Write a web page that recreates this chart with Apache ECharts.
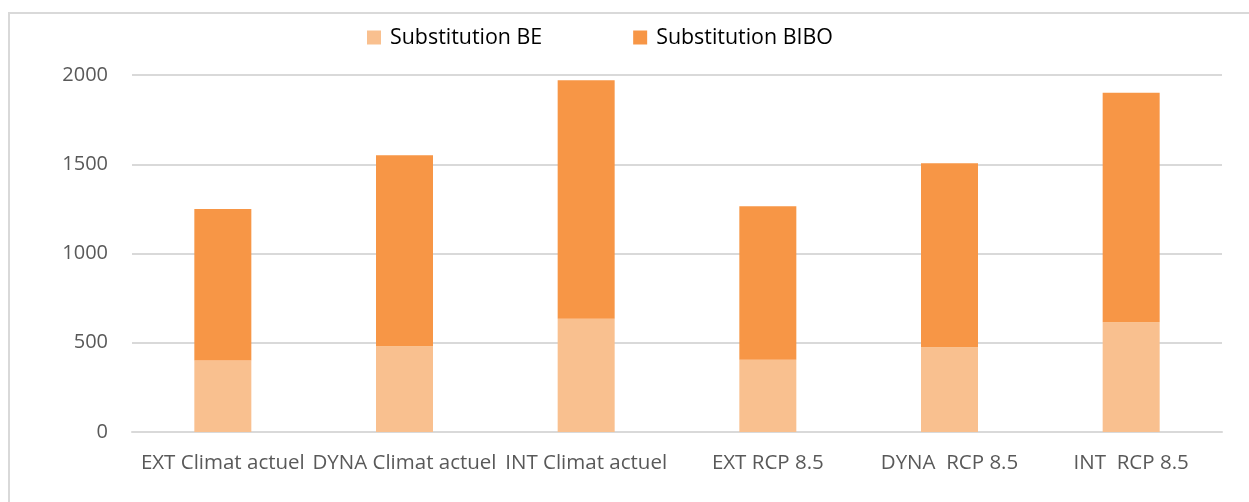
<!DOCTYPE html>
<html>
<head>
<meta charset="utf-8">
<script src="https://cdn.jsdelivr.net/npm/echarts@6/dist/echarts.min.js"></script>
<style>
html,body{margin:0;padding:0;background:#fff;}
#c{width:1249px;height:502px;}
</style>
</head>
<body>
<div id="c"></div>
<script>
var categories = ["EXT Climat actuel", "DYNA Climat actuel", "INT Climat actuel", "EXT RCP 8.5", "DYNA  RCP 8.5", "INT  RCP 8.5"];
var seriesNames = ["Substitution BE", "Substitution BIBO"];
var substitutionBE = [400, 480, 635, 405, 475, 615];
var substitutionBIBO = [850, 1070, 1335, 860, 1030, 1285];
var yTicks = [0, 500, 1000, 1500, 2000];

var chart = echarts.init(document.getElementById('c'), null, {renderer: 'canvas'});
var font = '"Open Sans", "Noto Sans", sans-serif';
chart.setOption({
  animation: false,
  backgroundColor: '#ffffff',
  graphic: [{
    type: 'rect', silent: true, z: -1,
    shape: {x: 9, y: 13, width: 1300, height: 600},
    style: {fill: 'none', stroke: '#d9d9d9', lineWidth: 2}
  }],
  legend: {
    left: 362, top: 22,
    itemWidth: 14, itemHeight: 14, itemGap: 91,
    icon: 'rect',
    textStyle: {fontFamily: font, fontSize: 21.4, color: '#000000', padding: [0, 0, 0, 4]},
    data: seriesNames
  },
  grid: {left: 132, right: 27, top: 75, bottom: 70, containLabel: false},
  xAxis: {
    type: 'category',
    data: categories,
    axisLine: {lineStyle: {color: '#d9d9d9', width: 2}},
    axisTick: {show: false},
    axisLabel: {fontFamily: font, fontSize: 20.5, color: '#595959', margin: 21, interval: 0}
  },
  yAxis: {
    type: 'value',
    min: yTicks[0], max: yTicks[yTicks.length - 1], interval: 500,
    axisLine: {show: false},
    axisTick: {show: false},
    splitLine: {lineStyle: {color: '#d9d9d9', width: 2}},
    axisLabel: {fontFamily: font, fontSize: 20, color: '#595959', margin: 24,
      formatter: function (v) { return String(v); }}
  },
  series: [
    {name: seriesNames[0], type: 'bar', stack: 'a', barWidth: 57, data: substitutionBE,
     itemStyle: {color: '#F9C08F'}},
    {name: seriesNames[1], type: 'bar', stack: 'a', barWidth: 57, data: substitutionBIBO,
     itemStyle: {color: '#F79646'}}
  ]
});
</script>
</body>
</html>
